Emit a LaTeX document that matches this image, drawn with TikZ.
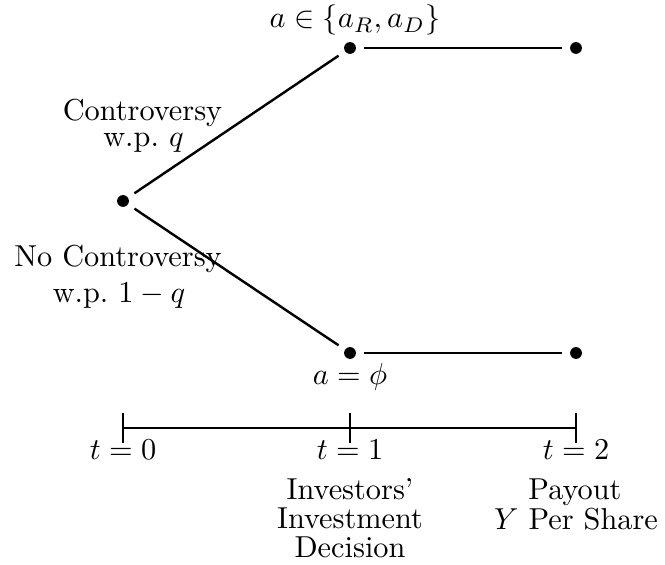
\documentclass[tikz,border=0pt]{standalone}
\begin{document}
\begin{tikzpicture}[x=0.33pt,y=-0.33pt,line width=0.8pt,
  dot/.style={circle,fill,inner sep=0pt,minimum size=3.9pt,outer sep=2.6pt},
  lbl/.style={anchor=base,inner sep=0pt,font=\fontsize{10}{12}\selectfont},
  branch/.style={draw},
  tickmark/.style={draw}]
\useasboundingbox (0,0) rectangle (665,565);
% tree
\node[dot] (root) at (123,201) {};
\node[dot] (c1) at (350,48) {};
\node[dot] (c2) at (576,48) {};
\node[dot] (n1) at (350,353) {};
\node[dot] (n2) at (576,353) {};
\draw[branch] (root) -- (c1);
\draw[branch] (c1) -- (c2);
\draw[branch] (root) -- (n1);
\draw[branch] (n1) -- (n2);
% labels
\node[lbl] (la) at (355,28) {$a\in\{a_R,a_D\}$};
\node[lbl] (lc1) at (142.5,121) {Controversy};
\node[lbl] (lc2) at (143.5,147) {w.p.\ $q$};
\node[lbl] (ln1) at (118,267) {No Controversy};
\node[lbl] (ln2) at (119,303) {w.p.\ $1-q$};
\node[lbl] (lphi) at (350,385) {$a=\phi$};
% timeline
\coordinate (t0) at (123,428);
\coordinate (t1) at (350,428);
\coordinate (t2) at (576,428);
\coordinate (t0a) at (123,413); \coordinate (t0b) at (123,443);
\coordinate (t1a) at (350,413); \coordinate (t1b) at (350,443);
\coordinate (t2a) at (576,413); \coordinate (t2b) at (576,443);
\draw (t0) -- (t1) -- (t2);
\draw[tickmark] (t0a) -- (t0b);
\draw[tickmark] (t1a) -- (t1b);
\draw[tickmark] (t2a) -- (t2b);
\node[lbl] (tl0) at (123,460) {$t=0$};
\node[lbl] (tl1) at (350,460) {$t=1$};
\node[lbl] (tl2) at (576,460) {$t=2$};
\node[lbl] (d1) at (350,500) {Investors'};
\node[lbl] (d2) at (350,529) {Investment};
\node[lbl] (d3) at (350,558) {Decision};
\node[lbl] (p1) at (575,500) {Payout};
\node[lbl] (p2) at (576,530) {$Y$ Per Share};
\end{tikzpicture}
\end{document}
